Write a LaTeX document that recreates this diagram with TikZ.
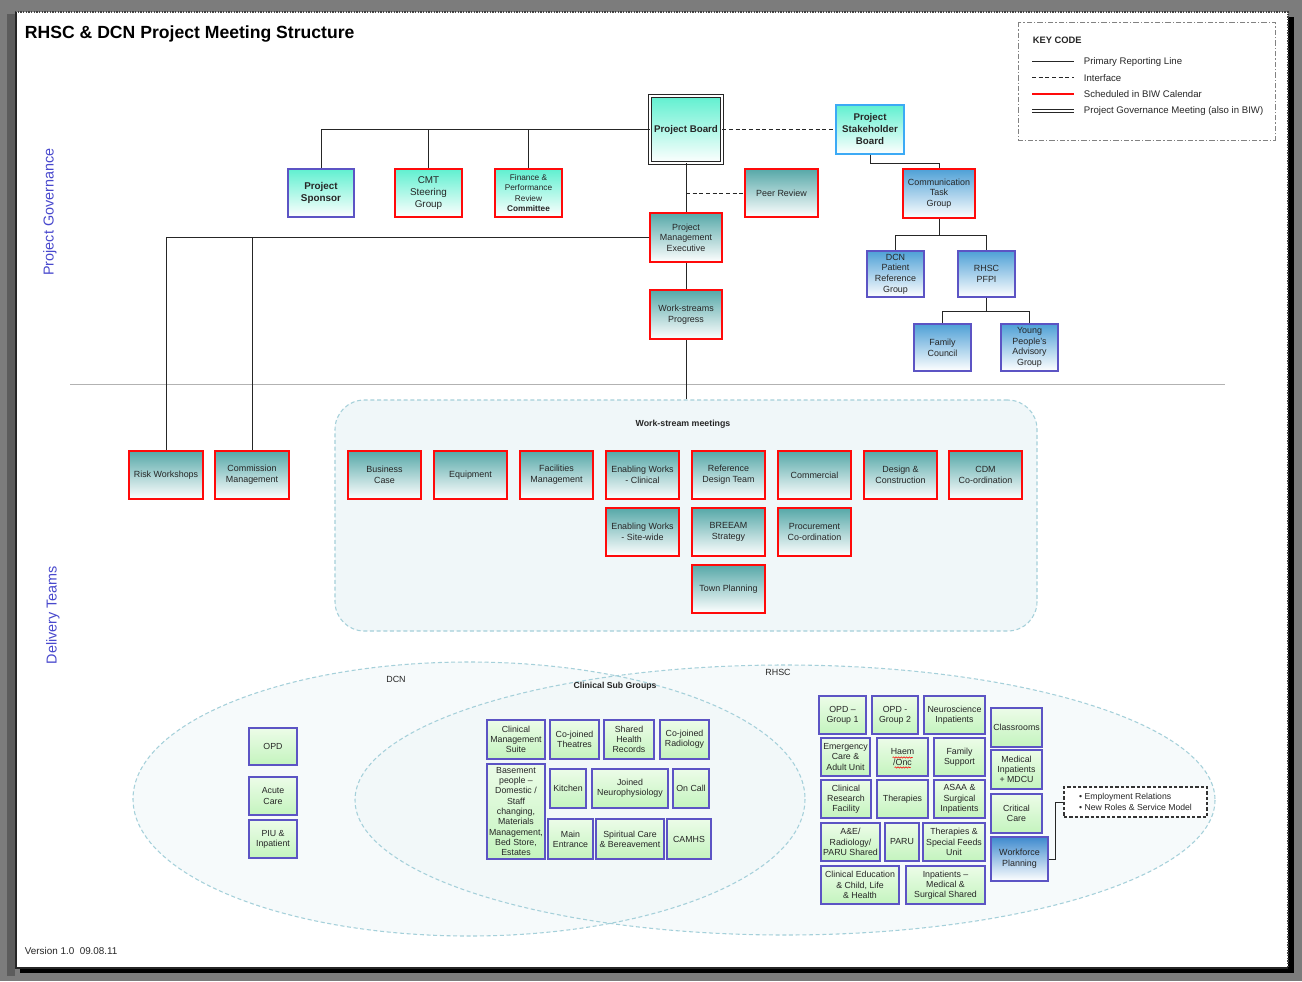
\documentclass[tikz,border=0pt]{standalone}
\usepackage{fontspec}
\setmainfont{Liberation Sans}
\usetikzlibrary{calc,decorations.pathmorphing}

\definecolor{pagegray}{RGB}{124,124,124}
\definecolor{stripgray}{RGB}{92,92,92}
\definecolor{aquatop}{RGB}{96,240,208}
\definecolor{tealtop}{RGB}{86,168,168}
\definecolor{bluetop}{RGB}{78,160,214}
\definecolor{wfptop}{RGB}{62,138,206}
\definecolor{greentop}{RGB}{236,252,232}
\definecolor{greenbot}{RGB}{196,244,190}
\definecolor{schedred}{RGB}{255,10,10}
\definecolor{boxblue}{RGB}{92,84,196}
\definecolor{skyline}{RGB}{60,170,245}
\definecolor{govblue}{RGB}{72,72,205}
\definecolor{zonefill}{RGB}{240,247,249}
\definecolor{zoneline}{RGB}{165,208,218}
\definecolor{keyline}{RGB}{130,130,130}

% box with corners (x1,y1)-(x2,y2) in pixel units
\newcommand\putbox[7]{%
  \node[#6, minimum width={(#4-#2)*0.75pt}, minimum height={(#5-#3)*0.75pt}]
    (#1) at ({(#2+#4)/2},{(#3+#5)/2}) {#7};}

\begin{document}
\begin{tikzpicture}[x=0.75pt,y=-0.75pt,
  every node/.style={font=\fontsize{6.7}{8}\selectfont, align=center, inner sep=0.5pt, text=black!85},
  link/.style={draw=black!85, line width=0.75pt},
  iface/.style={draw=black!85, line width=0.75pt, dash pattern=on 3pt off 2pt},
  redbox/.style={draw=schedred, line width=2pt},
  bluebox/.style={draw=boxblue, line width=1pt},
  aquafill/.style={top color=aquatop, bottom color=white},
  tealfill/.style={top color=tealtop, bottom color=white},
  bluefill/.style={top color=bluetop, bottom color=white},
  greenfill/.style={top color=greentop, bottom color=greenbot, bluebox, font=\fontsize{6.6}{7.7}\selectfont},
  zone/.style={draw=zoneline, line width=0.8pt, dash pattern=on 3pt off 2pt},
  ws/.style={tealfill, redbox}]

\useasboundingbox (0,0) rectangle (1302,981);

% page, shadow and frame
\fill[pagegray] (0,0) rectangle (1302,981);
\fill[stripgray] (7,14) rectangle (15,976);
\fill[black] (20,17) rectangle (1294,973);
\fill[white] (15,12) rectangle (1288,968);
\draw[black!75, line width=0.8pt, dash pattern=on 1pt off 1pt] (15,12) -- (1288,12) -- (1288,968);
\draw[black!85, line width=1pt] (16,12) -- (16,968) -- (1288,968);

% title and side labels
\node[anchor=west, font=\fontsize{13.2}{15}\selectfont\bfseries, text=black] (title) at (24,34) {RHSC \& DCN Project Meeting Structure};
\node[rotate=90, text=govblue, font=\fontsize{10.8}{13}\selectfont] (lblgov) at (50,212) {Project Governance};
\node[rotate=90, text=govblue, font=\fontsize{10.8}{13}\selectfont] (lbldel) at (53,615) {Delivery Teams};
\node[anchor=west, font=\fontsize{7.4}{9}\selectfont] (version) at (24,951) {Version 1.0\ \ 09.08.11};

% separator between governance and delivery
\draw[black!30, line width=0.7pt] (70,384) -- (1225,384);

% key
\draw[keyline, line width=0.7pt, dash pattern=on 4pt off 1.5pt on 1pt off 1.5pt] (1018,22) rectangle (1275,140);
\node[anchor=west, font=\fontsize{7}{8}\selectfont\bfseries] (keyttl) at (1032,40) {KEY CODE};
\begin{scope}[every node/.append style={anchor=west, font=\fontsize{7.2}{8}\selectfont}]
  \coordinate (ka1) at (1032,62); \coordinate (kb1) at (1074,62);
  \coordinate (ka2) at (1032,78); \coordinate (kb2) at (1074,78);
  \coordinate (ka3) at (1032,94); \coordinate (kb3) at (1074,94);
  \coordinate (ka4) at (1032,111); \coordinate (kb4) at (1074,111);
  \draw[link] (ka1) -- (kb1);
  \draw[iface] (ka2) -- (kb2);
  \draw[schedred, line width=2.2pt] (ka3) -- (kb3);
  \draw[black!85, line width=0.6pt, double, double distance=1.4pt] (ka4) -- (kb4);
  \node (kt1) at (1083,62) {Primary Reporting Line};
  \node (kt2) at (1083,78) {Interface};
  \node (kt3) at (1083,94) {Scheduled in BIW Calendar};
  \node (kt4) at (1083,111) {Project Governance Meeting (also in BIW)};
\end{scope}

% delivery zones
\fill[zonefill, opacity=0.6] (469,799) ellipse [x radius=336, y radius=137];
\fill[zonefill, opacity=0.6] (785,800) ellipse [x radius=430, y radius=135];
\draw[zone] (469,799) ellipse [x radius=336, y radius=137];
\draw[zone] (785,800) ellipse [x radius=430, y radius=135];
\node[fill=zonefill, zone, rounded corners=22pt, minimum width={702*0.75pt}, minimum height={231*0.75pt}] (wsreg) at (686,515.5) {};

\node (lbldcn) at (396,679) {DCN};
\node (lblrhsc) at (778,672) {RHSC};
\node[font=\fontsize{6.5}{8}\selectfont\bfseries] (lblcsg) at (615,686) {Clinical Sub Groups};
\node[font=\fontsize{6.6}{8}\selectfont\bfseries] (lblws) at (683,424) {Work-stream meetings};

% governance
\putbox{pb}{650}{96}{722}{163}{aquafill, draw=black!85, line width=0.6pt, double, double distance=1.6pt, font=\fontsize{7.3}{9}\selectfont\bfseries}{Project Board}
\putbox{psb}{836}{105}{904}{154}{aquafill, draw=skyline, line width=1pt, font=\fontsize{7.3}{9}\selectfont\bfseries}{Project\\Stakeholder\\Board}
\putbox{spons}{288}{169}{354}{217}{aquafill, bluebox, font=\fontsize{7.4}{9.3}\selectfont\bfseries}{Project\\Sponsor}
\putbox{cmt}{395}{169}{462}{217}{aquafill, redbox, font=\fontsize{7.4}{9}\selectfont}{CMT\\Steering\\Group}
\putbox{fin}{495}{169}{562}{217}{aquafill, redbox, font=\fontsize{6.2}{7.6}\selectfont}{Finance \&\\Performance\\Review\\\textbf{Committee}}
\putbox{peer}{745}{169}{818}{217}{tealfill, redbox}{Peer Review}
\putbox{comm}{903}{169}{975}{218}{bluefill, redbox}{Communication\\Task\\Group}
\putbox{pme}{650}{213}{722}{262}{tealfill, redbox}{Project\\Management\\Executive}
\putbox{wsp}{650}{290}{722}{339}{tealfill, redbox}{Work-streams\\Progress}
\putbox{dcnp}{867}{251}{924}{297}{bluefill, bluebox}{DCN\\Patient\\Reference\\Group}
\putbox{pfpi}{958}{251}{1015}{297}{bluefill, bluebox}{RHSC\\PFPI}
\putbox{fam}{914}{324}{971}{371}{bluefill, bluebox}{Family\\Council}
\putbox{ypag}{1001}{324}{1058}{371}{bluefill, bluebox}{Young\\People's\\Advisory\\Group}

% work-stream meetings
\putbox{risk}{129}{451}{203}{499}{ws}{Risk Workshops}
\putbox{cmgmt}{215}{451}{289}{499}{ws}{Commission\\Management}
\putbox{busc}{348}{451}{421}{499}{ws}{Business\\Case}
\putbox{equip}{434}{451}{507}{499}{ws}{Equipment}
\putbox{facm}{520}{451}{593}{499}{ws}{Facilities\\Management}
\putbox{ewc}{606}{451}{679}{499}{ws}{Enabling Works\\- Clinical}
\putbox{rdt}{692}{451}{765}{499}{ws}{Reference\\Design Team}
\putbox{comml}{778}{451}{851}{499}{ws}{Commercial}
\putbox{dnc}{864}{451}{937}{499}{ws}{Design \&\\Construction}
\putbox{cdm}{949}{451}{1022}{499}{ws}{CDM\\Co-ordination}
\putbox{ews}{606}{508}{679}{556}{ws}{Enabling Works\\- Site-wide}
\putbox{breeam}{692}{508}{765}{556}{ws}{BREEAM\\Strategy}
\putbox{proc}{778}{508}{851}{556}{ws}{Procurement\\Co-ordination}
\putbox{town}{692}{565}{765}{613}{ws}{Town Planning}

% DCN groups
\putbox{opd}{249}{728}{297}{765}{greenfill}{OPD}
\putbox{acute}{249}{777}{297}{815}{greenfill}{Acute\\Care}
\putbox{piu}{249}{820}{297}{858}{greenfill}{PIU \&\\Inpatient}

% clinical sub groups
\putbox{cms}{487}{720}{545}{759}{greenfill}{Clinical\\Management\\Suite}
\putbox{cjt}{550}{720}{599}{759}{greenfill}{Co-joined\\Theatres}
\putbox{shr}{604}{720}{654}{759}{greenfill}{Shared\\Health\\Records}
\putbox{cjr}{660}{720}{709}{759}{greenfill}{Co-joined\\Radiology}
\putbox{base}{487}{764}{545}{859}{greenfill}{Basement\\people --\\Domestic /\\Staff\\changing,\\Materials\\Management,\\Bed Store,\\Estates}
\putbox{kitch}{550}{769}{586}{808}{greenfill}{Kitchen}
\putbox{neuro}{592}{769}{668}{808}{greenfill}{Joined\\Neurophysiology}
\putbox{oncall}{673}{769}{709}{808}{greenfill}{On Call}
\putbox{mainent}{548}{819}{593}{859}{greenfill}{Main\\Entrance}
\putbox{spirit}{596}{819}{664}{859}{greenfill}{Spiritual Care\\\& Bereavement}
\putbox{camhs}{667}{819}{711}{859}{greenfill}{CAMHS}

% RHSC groups
\putbox{opd1}{819}{696}{866}{734}{greenfill}{OPD --\\Group 1}
\putbox{opd2}{872}{696}{918}{734}{greenfill}{OPD -\\Group 2}
\putbox{nsi}{924}{696}{985}{734}{greenfill}{Neuroscience\\Inpatients}
\putbox{class}{991}{708}{1042}{747}{greenfill}{Classrooms}
\putbox{emerg}{821}{738}{870}{776}{greenfill}{Emergency\\Care \&\\Adult Unit}
\putbox{haem}{877}{738}{928}{776}{greenfill}{Haem\\/Onc}
\putbox{famsup}{934}{738}{985}{776}{greenfill}{Family\\Support}
\putbox{medinp}{991}{750}{1042}{789}{greenfill}{Medical\\Inpatients\\+ MDCU}
\putbox{crf}{821}{780}{871}{818}{greenfill}{Clinical\\Research\\Facility}
\putbox{ther}{877}{780}{928}{818}{greenfill}{Therapies}
\putbox{asaa}{934}{780}{985}{818}{greenfill}{ASAA \&\\Surgical\\Inpatients}
\putbox{crit}{991}{794}{1042}{833}{greenfill}{Critical\\Care}
\putbox{ae}{821}{823}{880}{861}{greenfill}{A\&E/\\Radiology/\\PARU Shared}
\putbox{paru}{885}{823}{919}{861}{greenfill}{PARU}
\putbox{tsf}{923}{823}{985}{861}{greenfill}{Therapies \&\\Special Feeds\\Unit}
\putbox{wfp}{991}{837}{1048}{881}{top color=wfptop, bottom color=white, bluebox}{Workforce\\Planning}
\putbox{cedu}{821}{866}{899}{904}{greenfill}{Clinical Education\\\& Child, Life\\\& Health}
\putbox{inpms}{906}{866}{985}{904}{greenfill}{Inpatients --\\Medical \&\\Surgical Shared}
\node[draw=black!80, line width=0.8pt, dash pattern=on 2.5pt off 1.5pt, fill=white, minimum width={143*0.75pt}, minimum height={30*0.75pt}, align=left, font=\fontsize{6.5}{8}\selectfont] (wfnotes) at (1135.5,802) {\textbullet\ Employment Relations\\\textbullet\ New Roles \& Service Model};

% spelling marks under Haem /Onc
\draw[red, line width=0.4pt, decorate, decoration={snake, amplitude=0.5pt, segment length=2pt}] ($(haem.center)+(-10,0.5)$) -- ++(20,0);
\draw[red, line width=0.4pt, decorate, decoration={snake, amplitude=0.5pt, segment length=2pt}] ($(haem.center)+(-8,10.5)$) -- ++(16,0);

% reporting lines
\draw[link] (pb.west) -| (spons.north);
\draw[link] (cmt.north) -- (cmt.north |- pb.west);
\draw[link] (fin.north) -- (fin.north |- pb.west);
\draw[iface] (pb.east) -- (psb.west);
\draw[link] (psb.south) -- ++(0,9) -| (comm.north);
\draw[link] (pb.south) -- (pme.north);
\draw[iface] (pb.south |- peer.west) -- (peer.west);
\draw[link] (pme.west) -| (risk.north);
\draw[link] (cmgmt.north) -- (cmgmt.north |- pme.west);
\draw[link] (pme.south) -- (wsp.north);
\draw[link] (wsp.south) -- (wsp.south |- wsreg.north);
\draw[link] (comm.south) -- ++(0,16) -| (dcnp.north);
\draw[link] (comm.south) ++(0,16) -| (pfpi.north);
\draw[link] (pfpi.south) -- ++(0,14) -| (fam.north);
\draw[link] (pfpi.south) ++(0,14) -| (ypag.north);
\draw[link] (wfp.east) -- ++(7,0) |- (wfnotes.west);

\end{tikzpicture}
\end{document}
